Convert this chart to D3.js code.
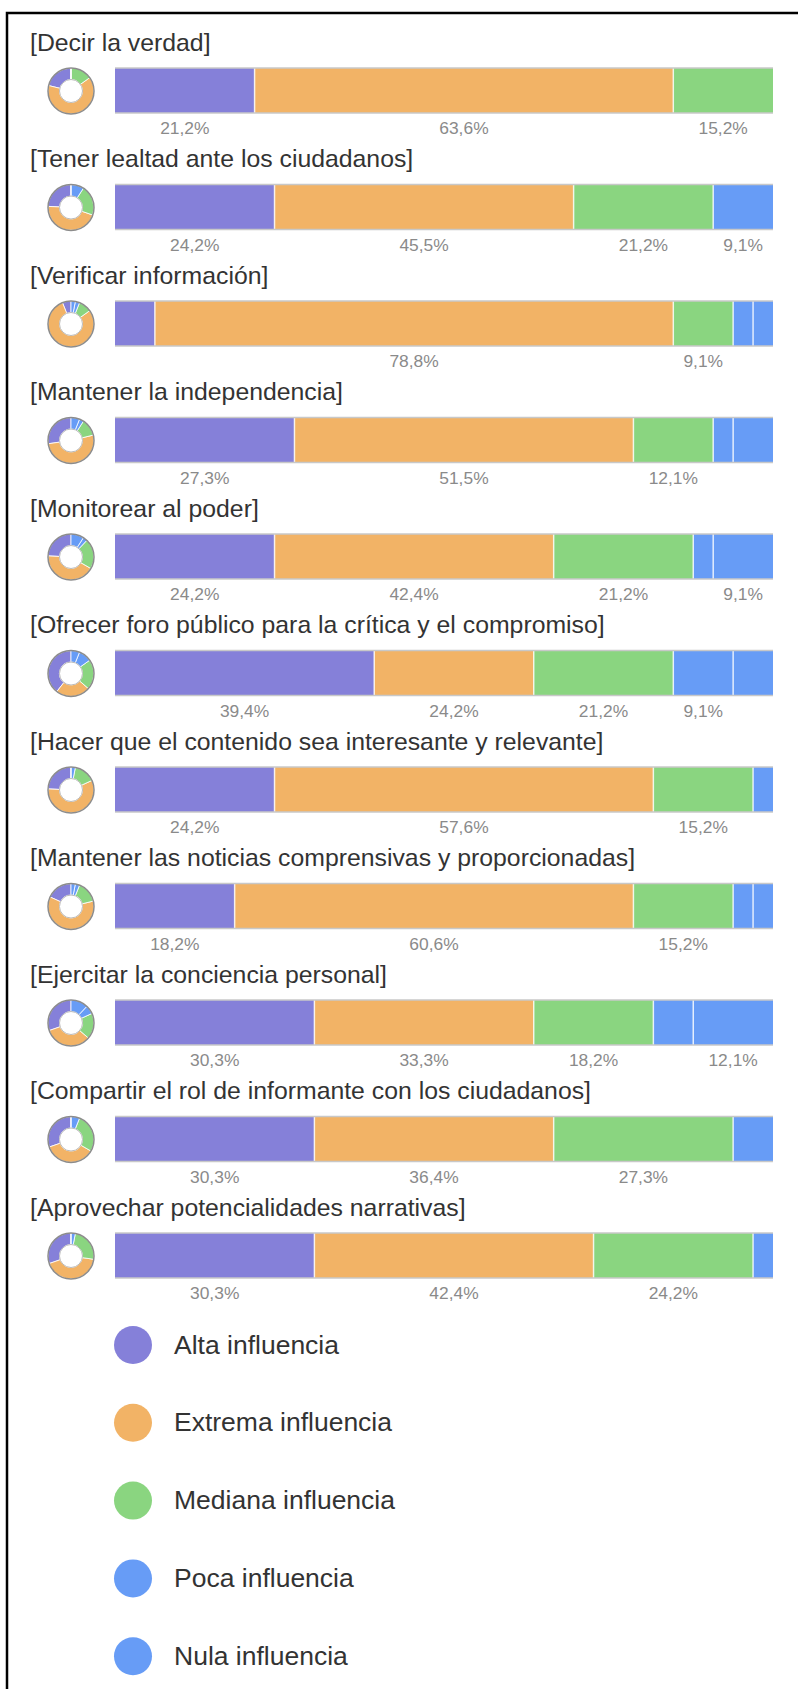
<!DOCTYPE html>
<html>
<head>
<meta charset="utf-8">
<script src="https://cdn.jsdelivr.net/npm/d3@7"></script>
<style>
  body { margin: 0; background: #fff; }
  svg { display: block; font-family: 'Liberation Sans', Arial, sans-serif; }
</style>
</head>
<body>
<svg width="798" height="1689"></svg>
<script>
// preguntas (filas)
const questions = [
  '[Decir la verdad]',
  '[Tener lealtad ante los ciudadanos]',
  '[Verificar información]',
  '[Mantener la independencia]',
  '[Monitorear al poder]',
  '[Ofrecer foro público para la crítica y el compromiso]',
  '[Hacer que el contenido sea interesante y relevante]',
  '[Mantener las noticias comprensivas y proporcionadas]',
  '[Ejercitar la conciencia personal]',
  '[Compartir el rol de informante con los ciudadanos]',
  '[Aprovechar potencialidades narrativas]'
];

const seriesNames = ['Alta influencia', 'Extrema influencia', 'Mediana influencia', 'Poca influencia', 'Nula influencia'];
const seriesColors = ['#8580d9', '#f2b366', '#8ad580', '#679cf6', '#679cf6'];

// respuestas (33 por fila)
const alta     = [7, 8, 2, 9, 8, 13, 8, 6, 10, 10, 10];
const extrema  = [21, 15, 26, 17, 14, 8, 19, 20, 11, 12, 14];
const mediana  = [5, 7, 3, 4, 7, 7, 5, 5, 6, 9, 8];
const poca     = [0, 3, 1, 1, 1, 3, 1, 1, 2, 2, 1];
const nula     = [0, 0, 1, 2, 3, 2, 0, 1, 4, 0, 0];
const total = 33;

const keys = ['alta', 'extrema', 'mediana', 'poca', 'nula'];
const table = questions.map((q, i) => ({
  q: q, alta: alta[i], extrema: extrema[i], mediana: mediana[i], poca: poca[i], nula: nula[i]
}));

const svg = d3.select('svg');
const rowStep = 116.5;
const barTop = 68;
const barH = 45;

const x = d3.scaleLinear().domain([0, total]).range([115, 773]);
const color = d3.scaleOrdinal().domain(keys).range(seriesColors);
const fmt = v => (v / total * 100).toFixed(1).replace('.', ',') + '%';

svg.append('rect').attr('width', 798).attr('height', 1689).attr('fill', '#fff');

// marco
svg.append('path')
  .attr('d', 'M7,1689V13H798')
  .attr('fill', 'none')
  .attr('stroke', '#000')
  .attr('stroke-width', 2.5);

const stacked = d3.stack().keys(keys)(table);

const rows = svg.selectAll('g.row')
  .data(table)
  .enter()
  .append('g')
  .attr('class', 'row')
  .attr('transform', (d, i) => `translate(0,${i * rowStep})`);

rows.append('text')
  .attr('x', 30)
  .attr('y', 50.7)
  .attr('fill', '#333')
  .style('font-size', '24.8px')
  .text(d => d.q);

// barras apiladas
stacked.forEach(layer => {
  rows.append('rect')
    .attr('x', (d, i) => x(layer[i][0]))
    .attr('y', barTop)
    .attr('width', (d, i) => x(layer[i][1]) - x(layer[i][0]))
    .attr('height', barH)
    .attr('fill', color(layer.key));
});

// separadores blancos
stacked.slice(0, -1).forEach(layer => {
  rows.append('line')
    .attr('x1', (d, i) => x(layer[i][1]))
    .attr('x2', (d, i) => x(layer[i][1]))
    .attr('y1', barTop)
    .attr('y2', barTop + barH)
    .attr('stroke', '#fff')
    .attr('stroke-width', 1.5)
    .attr('opacity', (d, i) => (layer[i][1] > 0 && layer[i][1] < total && layer[i][1] > layer[i][0]) ? 0.8 : 0);
});

rows.append('line')
  .attr('x1', x(0)).attr('x2', x(total))
  .attr('y1', barTop).attr('y2', barTop)
  .attr('stroke', '#c8c8c8').attr('stroke-width', 1.5);
rows.append('line')
  .attr('x1', x(0)).attr('x2', x(total))
  .attr('y1', barTop + barH).attr('y2', barTop + barH)
  .attr('stroke', '#c8c8c8').attr('stroke-width', 1.5);

// etiquetas de porcentaje
stacked.forEach(layer => {
  rows.append('text')
    .attr('x', (d, i) => (x(layer[i][0]) + x(layer[i][1])) / 2)
    .attr('y', 134)
    .attr('text-anchor', 'middle')
    .attr('fill', '#8a8a8a')
    .style('font-size', '17.4px')
    .text((d, i) => (layer[i][1] - layer[i][0]) >= 3 ? fmt(layer[i][1] - layer[i][0]) : '');
});

// donas
const pie = d3.pie().sort(null).startAngle(0).endAngle(-2 * Math.PI);
const arc = d3.arc().innerRadius(11.5).outerRadius(23);

rows.each(function (d) {
  const g = d3.select(this).append('g').attr('transform', 'translate(71,91)');
  const vals = keys.map(k => d[k]);
  g.selectAll('path')
    .data(pie(vals))
    .enter()
    .append('path')
    .attr('d', arc)
    .attr('fill', (p, j) => seriesColors[j])
    .attr('stroke', '#fff')
    .attr('stroke-width', 0.8);
  g.append('circle').attr('r', 23).attr('fill', 'none').attr('stroke', '#8c8c8c').attr('stroke-width', 1.5);
  g.append('circle').attr('r', 11.5).attr('fill', 'none').attr('stroke', '#bbb').attr('stroke-width', 1);
});

// leyenda
const legend = svg.selectAll('g.legend')
  .data(seriesNames)
  .enter()
  .append('g')
  .attr('class', 'legend')
  .attr('transform', (d, i) => `translate(133,${1345 + i * 77.8})`);

legend.append('circle')
  .attr('r', 19)
  .attr('fill', (d, i) => seriesColors[i]);

legend.append('text')
  .attr('x', 41)
  .attr('y', 8.5)
  .attr('fill', '#333')
  .style('font-size', '26.5px')
  .text(d => d);
</script>
</body>
</html>
